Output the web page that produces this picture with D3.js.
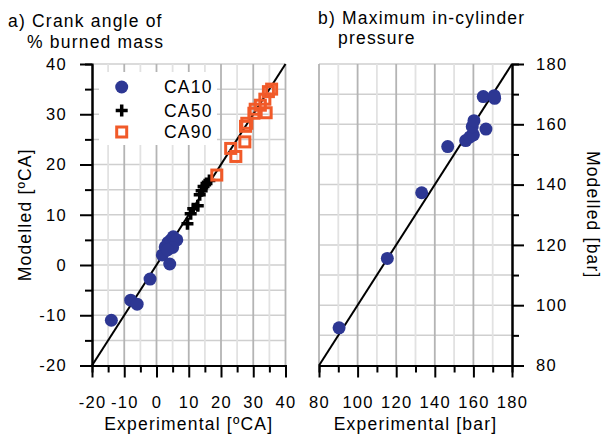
<!DOCTYPE html>
<html>
<head>
<meta charset="utf-8">
<script src="https://cdn.jsdelivr.net/npm/d3@7"></script>
<style>
  body { margin: 0; background: #fff; }
  svg text { font-family: "Liberation Sans", Arial, sans-serif; fill: #000; }
</style>
</head>
<body>
<div class="canvas"></div>
<script>
// data
const ca10Exp = [-14, -8, -6, -2, 1.8, 4.1, 2.7, 3.6, 4.5, 5.2, 6.3, 5.0, 3.4];
const ca10Mod = [-11, -7, -7.8, -2.8, 2.0, 0.2, 3.6, 4.5, 5.0, 5.6, 5.0, 3.5, 3.0];
const ca50Exp = [9.6, 10.6, 11.4, 12.8, 13.4, 14.0, 14.6, 15.5, 16.4];
const ca50Mod = [8.2, 10.2, 11.2, 11.8, 14.0, 14.8, 15.6, 16.2, 16.8];
const ca90Exp = [18.7, 23.0, 24.6, 27.4, 27.6, 28.0, 30.2, 30.6, 32.2, 34.0, 33.6, 34.7, 35.7];
const ca90Mod = [17.9, 23.2, 21.6, 24.5, 27.6, 28.2, 30.2, 31.0, 31.8, 30.3, 33.0, 34.5, 35.0];
const pmaxExp = [90.4, 115.4, 133.2, 146.7, 156.0, 158.2, 160.0, 159.4, 160.3, 166.5, 165.1, 170.8, 171.0];
const pmaxMod = [92.5, 115.5, 137.3, 152.6, 154.6, 155.8, 156.5, 159.2, 161.2, 158.4, 169.2, 169.5, 168.6];
const legendLabels = ['CA10', 'CA50', 'CA90'];
const ticksA = [-20, -10, 0, 10, 20, 30, 40];
const ticksB = [80, 100, 120, 140, 160, 180];

const blue = '#2d3793';
const orange = '#f15a29';

const svg = d3.select('.canvas')
    .append('svg')
    .attr('width', 603)
    .attr('height', 439);

// scales
const xA = d3.scaleLinear().domain([-20, 40]).range([92, 285.5]);
const yA = d3.scaleLinear().domain([-20, 40]).range([365.5, 64]);
const xB = d3.scaleLinear().domain([80, 180]).range([319, 512]);
const yB = d3.scaleLinear().domain([80, 180]).range([365.5, 64]);

const textStyle = sel => sel.attr('font-size', 17.5).attr('letter-spacing', '1.2px');
const plain = d => String(d); // keep the hyphen minus, like the original

// ---------- panel a ----------
const ga = svg.append('g');

// grid
ga.selectAll('.hgrid')
    .data(d3.range(-15, 41, 5))
    .enter().append('line')
    .attr('x1', xA(-20)).attr('x2', xA(40))
    .attr('y1', d => yA(d)).attr('y2', d => yA(d))
    .attr('stroke', '#cfcfcf').attr('stroke-width', 1.5);

ga.selectAll('.vgrid')
    .data(d3.range(-15, 41, 5))
    .enter().append('line')
    .attr('x1', d => xA(d)).attr('x2', d => xA(d))
    .attr('y1', yA(-20)).attr('y2', yA(40))
    .attr('stroke', d => d % 10 === 0 ? '#b4b4b4' : '#e2e2e2')
    .attr('stroke-width', 1.8);

// legend background hides the grid
ga.append('rect')
    .attr('x', 99).attr('y', 72)
    .attr('width', 118).attr('height', 73)
    .attr('fill', '#fff');

// 1:1 line
ga.append('line')
    .attr('x1', xA(-20)).attr('y1', yA(-20))
    .attr('x2', xA(40)).attr('y2', yA(40))
    .attr('stroke', '#000').attr('stroke-width', 2);

// markers
ga.selectAll('.ca10')
    .data(ca10Exp)
    .enter().append('circle')
    .attr('cx', d => xA(d))
    .attr('cy', (d, i) => yA(ca10Mod[i]))
    .attr('r', 6.5)
    .attr('fill', blue);

const plusPath = 'M-6,0H6M0,-6V6';
ga.selectAll('.ca50')
    .data(ca50Exp)
    .enter().append('path')
    .attr('d', plusPath)
    .attr('transform', (d, i) => `translate(${xA(d)},${yA(ca50Mod[i])})`)
    .attr('stroke', '#000').attr('stroke-width', 3.5);

ga.selectAll('.ca90')
    .data(ca90Exp)
    .enter().append('rect')
    .attr('x', d => xA(d) - 5)
    .attr('y', (d, i) => yA(ca90Mod[i]) - 5)
    .attr('width', 10).attr('height', 10)
    .attr('fill', 'none')
    .attr('stroke', orange).attr('stroke-width', 3);

// legend
const legY = [87, 110.5, 132];
ga.append('circle').attr('cx', 121.7).attr('cy', legY[0]).attr('r', 6.5).attr('fill', blue);
ga.append('path').attr('d', plusPath).attr('transform', `translate(121.7,${legY[1]})`)
    .attr('stroke', '#000').attr('stroke-width', 3.5);
ga.append('rect').attr('x', 116.7).attr('y', legY[2] - 5).attr('width', 10).attr('height', 10)
    .attr('fill', 'none').attr('stroke', orange).attr('stroke-width', 3);
ga.selectAll('.legtext')
    .data(legendLabels)
    .enter().append('text')
    .attr('x', 164)
    .attr('y', (d, i) => legY[i])
    .attr('dy', '0.36em')
    .call(textStyle)
    .text(d => d);

// axes: major ticks with labels + minor ticks
const styleAxis = g => {
    g.select('.domain').attr('stroke', '#000').attr('stroke-width', 2);
    g.selectAll('.tick line').attr('stroke', '#000').attr('stroke-width', 2);
    g.selectAll('.tick text').attr('font-size', 16.5).attr('letter-spacing', '1.3px')
        .attr('font-family', '"Liberation Sans", Arial, sans-serif');
};

ga.append('g')
    .attr('transform', `translate(${xA(-20)},0)`)
    .call(d3.axisLeft(yA).tickValues(d3.range(-15, 40, 10)).tickSize(7).tickFormat(''))
    .call(styleAxis);
ga.append('g')
    .attr('transform', `translate(${xA(-20)},0)`)
    .call(d3.axisLeft(yA).tickValues(ticksA).tickSize(12).tickSizeOuter(0).tickPadding(13).tickFormat(plain))
    .call(styleAxis);

ga.append('g')
    .attr('transform', `translate(0,${yA(-20)})`)
    .call(d3.axisBottom(xA).tickValues(d3.range(-15, 40, 10)).tickSize(7).tickFormat(''))
    .call(styleAxis);
ga.append('g')
    .attr('transform', `translate(0,${yA(-20)})`)
    .call(d3.axisBottom(xA).tickValues(ticksA).tickSize(12).tickSizeOuter(0).tickPadding(19).tickFormat(plain))
    .call(styleAxis);

// titles
ga.append('text').attr('x', 8).attr('y', 27).call(textStyle).text('a) Crank angle of');
ga.append('text').attr('x', 27).attr('y', 48).call(textStyle).text('% burned mass');
ga.append('text')
    .attr('x', (xA(-20) + xA(40)) / 2).attr('y', 430)
    .attr('text-anchor', 'middle')
    .call(textStyle)
    .text('Experimental [ºCA]');
ga.append('text')
    .attr('transform', `translate(31,${(yA(-20) + yA(40)) / 2}) rotate(-90)`)
    .attr('text-anchor', 'middle')
    .call(textStyle)
    .text('Modelled [ºCA]');

// ---------- panel b ----------
const gb = svg.append('g');

gb.selectAll('.hgrid')
    .data(d3.range(90, 181, 10))
    .enter().append('line')
    .attr('x1', xB(80)).attr('x2', xB(180))
    .attr('y1', d => yB(d)).attr('y2', d => yB(d))
    .attr('stroke', '#cfcfcf').attr('stroke-width', 1.5);

gb.selectAll('.vgrid')
    .data(d3.range(80, 180, 10))
    .enter().append('line')
    .attr('x1', d => xB(d)).attr('x2', d => xB(d))
    .attr('y1', yB(80)).attr('y2', yB(180))
    .attr('stroke', d => d % 20 === 0 ? '#b4b4b4' : '#e2e2e2')
    .attr('stroke-width', 1.8);

gb.append('line')
    .attr('x1', xB(80)).attr('y1', yB(80))
    .attr('x2', xB(180)).attr('y2', yB(180))
    .attr('stroke', '#000').attr('stroke-width', 2);

gb.selectAll('.pmax')
    .data(pmaxExp)
    .enter().append('circle')
    .attr('cx', d => xB(d))
    .attr('cy', (d, i) => yB(pmaxMod[i]))
    .attr('r', 6.5)
    .attr('fill', blue);

gb.append('g')
    .attr('transform', `translate(${xB(180)},0)`)
    .call(d3.axisRight(yB).tickValues(d3.range(90, 180, 20)).tickSize(7).tickFormat(''))
    .call(styleAxis);
gb.append('g')
    .attr('transform', `translate(${xB(180)},0)`)
    .call(d3.axisRight(yB).tickValues(ticksB).tickSize(12).tickSizeOuter(0).tickPadding(12).tickFormat(plain))
    .call(styleAxis);

gb.append('g')
    .attr('transform', `translate(0,${yB(80)})`)
    .call(d3.axisBottom(xB).tickValues(d3.range(90, 180, 20)).tickSize(7).tickFormat(''))
    .call(styleAxis);
gb.append('g')
    .attr('transform', `translate(0,${yB(80)})`)
    .call(d3.axisBottom(xB).tickValues(ticksB).tickSize(12).tickSizeOuter(0).tickPadding(19).tickFormat(plain))
    .call(styleAxis);

gb.append('text').attr('x', 318).attr('y', 24).call(textStyle).text('b) Maximum in-cylinder');
gb.append('text').attr('x', 338).attr('y', 43.5).call(textStyle).text('pressure');
gb.append('text')
    .attr('x', (xB(80) + xB(180)) / 2).attr('y', 430)
    .attr('text-anchor', 'middle')
    .call(textStyle)
    .text('Experimental [bar]');
gb.append('text')
    .attr('transform', `translate(587,${(yB(80) + yB(180)) / 2}) rotate(90)`)
    .attr('text-anchor', 'middle')
    .call(textStyle)
    .text('Modelled [bar]');
</script>
</body>
</html>
